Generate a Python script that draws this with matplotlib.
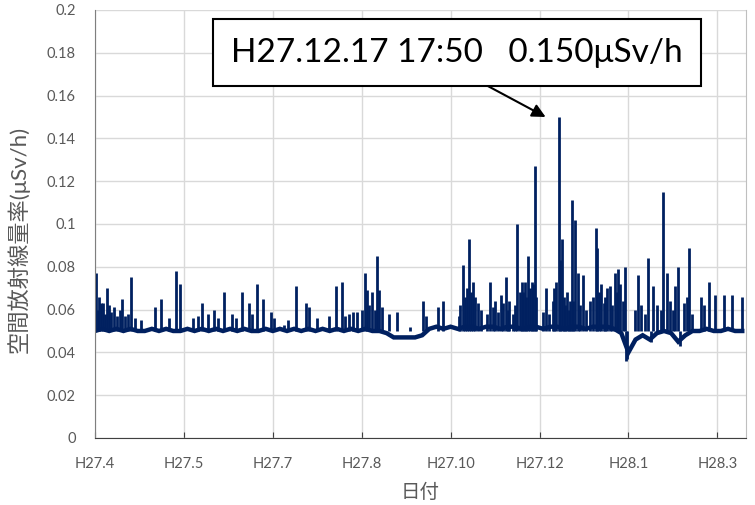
import matplotlib
matplotlib.use("Agg")
import matplotlib.pyplot as plt

plt.rcParams['font.family'] = ['Lato', 'Noto Sans CJK JP', 'DejaVu Sans']

# days counted from H27.4.1 (2015-04-01)
base_days = list(range(0, 368, 4))
base_vals = [0.050, 0.051, 0.050, 0.051, 0.050, 0.051, 0.050, 0.050, 0.051, 0.050,
             0.051, 0.050, 0.050, 0.051, 0.050, 0.051, 0.050, 0.051, 0.050, 0.051,
             0.050, 0.051, 0.050, 0.050, 0.051, 0.050, 0.051, 0.050, 0.051, 0.050,
             0.051, 0.050, 0.051, 0.050, 0.051, 0.050, 0.051, 0.050, 0.051, 0.050,
             0.050, 0.049, 0.047, 0.047, 0.047, 0.047, 0.048, 0.051, 0.052, 0.051,
             0.052, 0.051, 0.052, 0.052, 0.051, 0.052, 0.052, 0.051, 0.052, 0.052,
             0.051, 0.052, 0.052, 0.051, 0.052, 0.052, 0.051, 0.052, 0.052, 0.051,
             0.052, 0.052, 0.052, 0.051, 0.049, 0.040, 0.046, 0.048, 0.046, 0.049,
             0.050, 0.049, 0.045, 0.048, 0.050, 0.050, 0.051, 0.050, 0.050, 0.051,
             0.050, 0.050]

# short spikes (day, peak value)
spike_days = [0.6, 3.4, 4.5, 6.7, 10.7, 15.2, 16.9, 18.5, 20.2, 33.7, 37.1, 41.6,
              45.5, 47.8, 60.1, 63.5, 66.9, 69.1, 72.5, 77.0, 79.2, 82.6, 86.5,
              91.0, 94.4, 98.9, 106.2, 108.4, 112.9, 118.5, 120.2, 135.4, 138.8,
              142.7, 144.9, 147.2, 151.7, 152.8, 155.6, 158.4, 159.6, 165.2, 169.7,
              177.0, 184.3, 192.7, 195.5, 204.5, 206.7, 210.1, 212.4, 215.2, 221.9,
              223.6, 228.1, 230.9, 233.1, 237.6, 239.9, 241.6, 243.3, 247.2, 253.9,
              259.0, 260.74, 262.4, 265.2, 268.0, 270.2, 271.9, 274.2, 281.5, 282.6,
              284.8, 288.2, 289.9, 292.7, 294.4, 298.3, 305.6, 311.2, 314.0, 319.7,
              321.9, 326.4, 328.1, 334.3, 341.0, 342.7, 345.5, 348.9, 353.9, 358.4,
              364.0]
spike_vals = [0.077, 0.063, 0.063, 0.070, 0.061, 0.065, 0.057, 0.058, 0.075, 0.061,
              0.065, 0.056, 0.078, 0.072, 0.063, 0.058, 0.060, 0.056, 0.068, 0.058,
              0.056, 0.068, 0.063, 0.072, 0.065, 0.059, 0.053, 0.055, 0.071, 0.063,
              0.061, 0.071, 0.073, 0.058, 0.059, 0.059, 0.077, 0.069, 0.068, 0.085,
              0.069, 0.058, 0.059, 0.052, 0.064, 0.061, 0.064, 0.057, 0.081, 0.093,
              0.073, 0.063, 0.073, 0.061, 0.067, 0.075, 0.064, 0.100, 0.073, 0.073,
              0.085, 0.127, 0.070, 0.073, 0.150, 0.093, 0.068, 0.111, 0.102, 0.077,
              0.076, 0.098, 0.089, 0.072, 0.070, 0.071, 0.077, 0.079, 0.080, 0.076,
              0.084, 0.071, 0.115, 0.077, 0.071, 0.080, 0.089, 0.066, 0.062, 0.073,
              0.067, 0.067, 0.067, 0.066]

# smaller spikes filling the busy stretches
small_days = [1.5, 2.3, 5.4, 8.0, 9.2, 12.3, 14.0, 22.5, 26.0, 55.3, 58.0, 88.2,
              100.8, 125.0, 131.5, 140.5, 150.4, 154.2, 157.3, 161.5, 186.0, 205.5,
              208.2, 209.0, 211.3, 213.5, 217.0, 220.3, 225.0, 226.8, 229.5, 232.0,
              235.0, 236.4, 238.8, 240.7, 242.5, 244.5, 245.6, 246.3, 248.3, 252.0,
              255.5, 257.5, 258.2, 261.5, 263.5, 264.3, 266.5, 267.2, 269.1, 273.0,
              276.0, 278.5, 280.2, 283.7, 286.0, 287.0, 291.0, 293.5, 295.5, 297.2,
              303.5, 307.0, 309.5, 316.0, 318.2, 323.5, 325.0, 331.0, 333.0, 336.0]
small_vals = [0.060, 0.066, 0.058, 0.062, 0.059, 0.057, 0.060, 0.056, 0.055, 0.056,
              0.057, 0.058, 0.056, 0.056, 0.057, 0.057, 0.060, 0.062, 0.060, 0.061,
              0.057, 0.062, 0.066, 0.070, 0.068, 0.066, 0.060, 0.058, 0.064, 0.059,
              0.063, 0.060, 0.058, 0.062, 0.068, 0.068, 0.066, 0.070, 0.073, 0.072,
              0.066, 0.059, 0.058, 0.064, 0.070, 0.083, 0.066, 0.062, 0.060, 0.064,
              0.064, 0.062, 0.060, 0.064, 0.066, 0.068, 0.063, 0.066, 0.062, 0.068,
              0.072, 0.064, 0.060, 0.062, 0.058, 0.062, 0.060, 0.064, 0.060, 0.063,
              0.066, 0.058]

# dips below the baseline
dip_days = [298.8, 299.3, 312.5, 328.9]
dip_vals = [0.036, 0.037, 0.045, 0.043]

tick_days = [0, 50, 100, 150, 200, 250, 300, 350]
tick_labels = ['H27.4', 'H27.5', 'H27.7', 'H27.8', 'H27.10', 'H27.12', 'H28.1', 'H28.3']

peak_day = 260.74
peak_val = 0.150

line_color = '#002060'
fig = plt.figure(figsize=(7.55, 5.05), dpi=100)
ax = fig.add_axes([0.1258, 0.1327, 0.862, 0.8475])

ax.plot(base_days, base_vals, color=line_color, lw=3.2, solid_joinstyle='miter')
ax.vlines(spike_days, 0.050, spike_vals, color=line_color, lw=2.0)
ax.vlines(small_days, 0.050, small_vals, color=line_color, lw=2.0)
ax.vlines(dip_days, 0.050, dip_vals, color=line_color, lw=2.0)

ax.set_xlim(0, 366)
ax.set_ylim(0, 0.2)
ax.set_yticks([i * 0.02 for i in range(11)])
ax.set_yticklabels(['0', '0.02', '0.04', '0.06', '0.08', '0.1', '0.12', '0.14',
                    '0.16', '0.18', '0.2'])
ax.set_xticks(tick_days)
ax.set_xticklabels(tick_labels)
ax.grid(True, color='#d9d9d9', lw=1)
ax.set_axisbelow(True)
ax.tick_params(axis='y', length=0, pad=14, labelsize=10.5, labelcolor='#595959')
ax.tick_params(axis='x', direction='in', length=4, color='#404040', pad=14,
               labelsize=10.5, labelcolor='#595959')
ax.spines['left'].set_color('#7f7f7f')
ax.spines['bottom'].set_color('#404040')
ax.spines['top'].set_visible(False)
ax.spines['right'].set_color('#bfbfbf')

ax.set_ylabel('空間放射線量率(μSv/h)', fontsize=16, color='#595959')
ax.yaxis.set_label_coords(-0.101, 0.465)
ax.set_xlabel('日付', fontsize=14, color='#595959', labelpad=8)

fig.text(0.605, 0.896, 'H27.12.17 17:50   0.150μSv/h', fontsize=24,
         ha='center', va='center',
         bbox=dict(boxstyle='square,pad=0.55', fc='white', ec='black', lw=1.5))
ax.annotate('', xy=(peak_day - 7.3, peak_val), xytext=(0.642, 0.833),
            textcoords='figure fraction',
            arrowprops=dict(arrowstyle='-|>', color='black', lw=1.5,
                            mutation_scale=20, shrinkA=0, shrinkB=0))

fig.savefig('out.png', dpi=100)
